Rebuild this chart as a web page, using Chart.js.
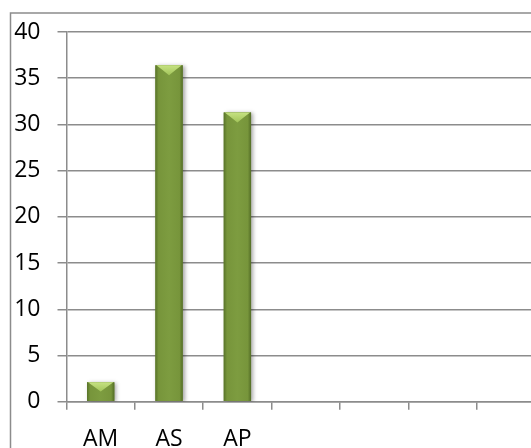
<!DOCTYPE html>
<html>
<head>
<meta charset="utf-8">
<script src="https://cdn.jsdelivr.net/npm/chart.js@4/dist/chart.umd.min.js"></script>
<style>
  html, body { margin: 0; padding: 0; background: #fff; overflow: hidden; }
  #wrap { position: relative; width: 545px; height: 448px; }
</style>
</head>
<body>
<div id="wrap"><canvas id="c" width="545" height="448"></canvas></div>
<script>
// Categories along the x axis (the trailing slots are left empty)
const categories = ['AM', 'AS', 'AP', '', '', '', ''];
// Values of the single series
const values = [2.1, 36.4, 31.3, null, null, null, null];
// Y axis range
const yMin = 0;
const yMax = 40;
const yStep = 5;

const FONT = { family: 'Open Sans', size: 23 };

// Outer frame around the chart
const framePlugin = {
  id: 'frame',
  beforeDraw(chart) {
    const ctx = chart.ctx;
    ctx.save();
    ctx.strokeStyle = '#8c8c8c';
    ctx.lineWidth = 1.5;
    ctx.strokeRect(10.5, 13, chart.width + 20, chart.height + 20);
    ctx.restore();
  }
};

// Shaded, bevelled look for the bars, drawn over each bar element
const bevelPlugin = {
  id: 'bevel',
  beforeDatasetsDraw(chart) {
    const ctx = chart.ctx;
    ctx.save();
    ctx.shadowColor = 'rgba(0,0,0,0.35)';
    ctx.shadowBlur = 4;
    ctx.shadowOffsetX = 2;
    ctx.shadowOffsetY = 1;
  },
  afterDatasetsDraw(chart) {
    const ctx = chart.ctx;
    ctx.restore();
    const meta = chart.getDatasetMeta(0);
    meta.data.forEach((bar, i) => {
      if (values[i] == null) return;
      const { x, y, base, width } = bar.getProps(['x', 'y', 'base', 'width'], true);
      const l = x - width / 2, r = x + width / 2;
      const h = base - y;
      ctx.save();
      // body: darker at the sides, lighter in the middle
      const g = ctx.createLinearGradient(l, 0, r, 0);
      g.addColorStop(0, '#587329');
      g.addColorStop(0.12, '#77953b');
      g.addColorStop(0.5, '#7d9c40');
      g.addColorStop(0.88, '#77953b');
      g.addColorStop(1, '#536d26');
      ctx.fillStyle = g;
      ctx.fillRect(l, y, width, h);
      // top bevel
      const cap = Math.min(10, h * 0.5);
      const tg = ctx.createLinearGradient(0, y, 0, y + cap);
      tg.addColorStop(0, '#c6e282');
      tg.addColorStop(1, '#a2c45a');
      ctx.fillStyle = tg;
      ctx.beginPath();
      ctx.moveTo(l + 1, y);
      ctx.lineTo(r - 1, y);
      ctx.lineTo(r - width * 0.25, y + cap * 0.45);
      ctx.lineTo(x, y + cap);
      ctx.lineTo(l + width * 0.25, y + cap * 0.45);
      ctx.closePath();
      ctx.fill();
      ctx.restore();
    });
  }
};

new Chart(document.getElementById('c'), {
  type: 'bar',
  data: {
    labels: categories,
    datasets: [{
      data: values,
      backgroundColor: '#77933c',
      borderWidth: 0,
      categoryPercentage: 1,
      barPercentage: 0.4
    }]
  },
  options: {
    responsive: false,
    animation: false,
    events: [],
    layout: { padding: { top: 32, right: 0, bottom: 0, left: 0 } },
    plugins: { legend: { display: false }, tooltip: { enabled: false } },
    scales: {
      x: {
        grid: {
          offset: true,
          drawOnChartArea: false,
          drawTicks: true,
          tickLength: 8,
          color: '#8c8c8c',
          lineWidth: 1.5
        },
        border: { color: '#8c8c8c', width: 1.5 },
        ticks: { color: '#000', font: FONT, padding: 16, maxRotation: 0, autoSkip: false },
        afterFit(scale) { scale.height = 46.3; }
      },
      y: {
        min: yMin,
        max: yMax,
        grid: { color: '#8c8c8c', lineWidth: 1.5, tickLength: 9 },
        border: { color: '#8c8c8c', width: 1.5 },
        ticks: { stepSize: yStep, color: '#000', font: FONT, padding: 17 },
        afterFit(scale) { scale.width = 66.5; }
      }
    }
  },
  plugins: [framePlugin, bevelPlugin]
});
</script>
</body>
</html>
